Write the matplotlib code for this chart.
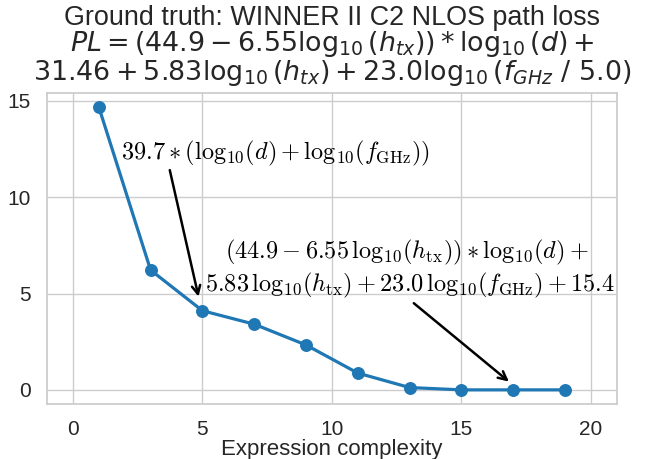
import matplotlib
matplotlib.use("Agg")
import matplotlib.pyplot as plt
import seaborn as sns

complexity = [1, 3, 5, 7, 9, 11, 13, 15, 17, 19]
loss = [14.69, 6.22, 4.11, 3.41, 2.33, 0.87, 0.12, 0.0, 0.0, 0.0]
xticks = [0, 5, 10, 15, 20]
yticks = [0, 5, 10, 15]

sns.set_theme(style="whitegrid")
plt.rcParams['font.family'] = ['Liberation Sans', 'DejaVu Sans']
plt.rcParams['mathtext.fontset'] = 'dejavusans'

fig = plt.figure(figsize=(6.57, 4.59), dpi=100)
ax = fig.add_axes([0.0715, 0.1198, 0.8675, 0.678])

ax.plot(complexity, loss, color="#1f77b4", lw=2.3, marker="o", markersize=8.3)
ax.set_xlim(-1, 21)
ax.set_xticks(xticks)
ax.set_yticks(yticks)
ax.tick_params(labelsize=15, colors=".15", pad=5.5)
ax.set_xlabel("Expression complexity", fontsize=16, color=".15", labelpad=0)
for s in ax.spines.values():
    s.set_color(".8")

title = ("Ground truth: WINNER II C2 NLOS path loss\n"
         r"$PL = (44.9 - 6.55\mathrm{log}_{10}\,(h_{tx})) * \mathrm{log}_{10}\,(d) + $" "\n"
         r"$31.46 + 5.83\mathrm{log}_{10}\,(h_{tx}) + 23.0\mathrm{log}_{10}\,(f_{GHz}\ /\ 5.0)$")
ax.set_title(title, fontsize=19.4, color=".15", linespacing=0.95, pad=9)

ann1 = r"$39.7 \ast (\mathrm{log}_{10}(d) + \mathrm{log}_{10}(f_{\rm GHz}))$"
ann2a = r"$(44.9 - 6.55\,\mathrm{log}_{10}(h_{\rm tx})) \ast \mathrm{log}_{10}(d) +$"
ann2b = r"$5.83\,\mathrm{log}_{10}(h_{\rm tx}) + 23.0\,\mathrm{log}_{10}(f_{\rm GHz}) + 15.4$"

ax.text(1.85, 11.97, ann1, ha="left", va="baseline", fontsize=17.5,
        math_fontfamily="cm", color="black")
ax.text(12.88, 6.83, ann2a, ha="center", va="baseline", fontsize=17.5,
        math_fontfamily="cm", color="black")
ax.text(13.0, 5.10, ann2b, ha="center", va="baseline", fontsize=17.5,
        math_fontfamily="cm", color="black")

arrow = dict(arrowstyle="->", color="black", lw=1.8, shrinkA=0, shrinkB=0,
             mutation_scale=15)
ax.annotate("", xy=(4.85, 4.84), xytext=(3.74, 11.41), arrowprops=arrow)
ax.annotate("", xy=(16.83, 0.43), xytext=(13.16, 4.5), arrowprops=arrow)

fig.savefig("out.png", dpi=100)
